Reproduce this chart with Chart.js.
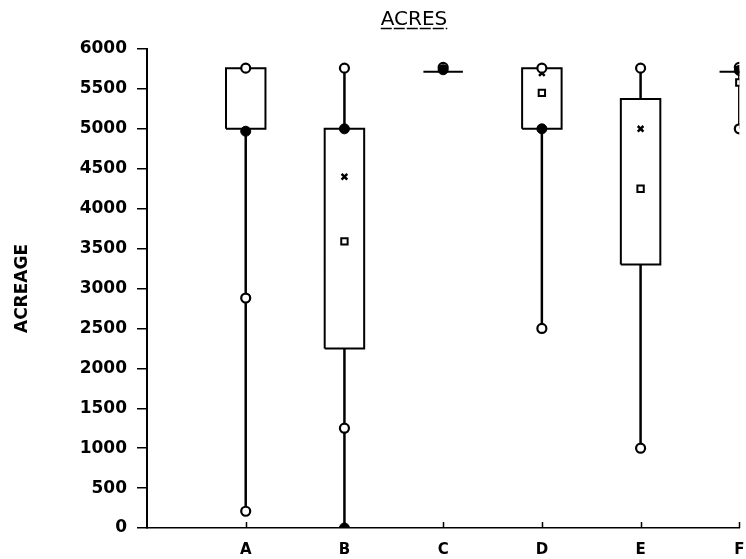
<!DOCTYPE html>
<html lang="en">
<head>
    <meta charset="UTF-8">
    <title>Acres</title>
    <script src="https://cdn.jsdelivr.net/npm/chart.js"></script>
    <style>
        html, body { margin: 0; padding: 0; background: #fff; }
        #wrap { width: 746px; height: 559px; }
    </style>
</head>
<body>
    <div id="wrap"><canvas id="acresChart" width="746" height="559"></canvas></div>

    <script>
        const categories = ['A', 'B', 'C', 'D', 'E', 'F'];
        const q1 = [5000, 2250, 5715, 5000, 3300, 5715];
        const q3 = [5760, 5000, 5715, 5760, 5375, 5715];
        const whiskerLow = [210, 0, 5715, 2500, 1000, 5000];
        const whiskerHigh = [5760, 5760, 5715, 5760, 5760, 5760];
        const openPoints = [[5760, 2880, 210], [5760, 1250], [5770], [5760, 2500], [5760, 1000], [5770, 5000]];
        const filledPoints = [[4970], [5000, 0], [5740], [5000], [], [5730]];
        const means = [[], [4400], [], [5700], [5000], []];
        const medians = [[], [3590], [], [5450], [4250], [5580]];
        const yTicks = [0, 500, 1000, 1500, 2000, 2500, 3000, 3500, 4000, 4500, 5000, 5500, 6000];

        const halfWidth = 0.2;

        // box outlines, separated by null points
        const boxData = [];
        categories.forEach((c, i) => {
            const x = i + 1;
            boxData.push({x: x - halfWidth, y: q1[i]}, {x: x + halfWidth, y: q1[i]},
                         {x: x + halfWidth, y: q3[i]}, {x: x - halfWidth, y: q3[i]},
                         {x: x - halfWidth, y: q1[i]}, {x: x, y: null});
        });

        // whiskers above and below each box
        const whiskerData = [];
        categories.forEach((c, i) => {
            const x = i + 1;
            if (whiskerLow[i] < q1[i]) whiskerData.push({x: x, y: whiskerLow[i]}, {x: x, y: q1[i]}, {x: x, y: null});
            if (whiskerHigh[i] > q3[i]) whiskerData.push({x: x, y: q3[i]}, {x: x, y: whiskerHigh[i]}, {x: x, y: null});
        });

        const toPoints = (lists) => lists.flatMap((vals, i) => vals.map(v => ({x: i + 1, y: v})));

        const titlePlugin = {
            id: 'acresTitle',
            afterDraw(chart) {
                const ctx = chart.ctx;
                ctx.save();
                ctx.fillStyle = '#000';
                ctx.font = '20px "DejaVu Sans"';
                ctx.textAlign = 'center';
                ctx.textBaseline = 'alphabetic';
                ctx.fillText('ACRES', 414, 25);
                const w = ctx.measureText('ACRES').width;
                ctx.strokeStyle = '#000';
                ctx.lineWidth = 1.5;
                ctx.setLineDash([11, 2]);
                ctx.beginPath();
                ctx.moveTo(414 - w / 2, 28.5);
                ctx.lineTo(414 + w / 2, 28.5);
                ctx.stroke();
                ctx.restore();
            }
        };

        // small tick marks pointing up into the plot at each category
        const innerTicks = {
            id: 'innerTicks',
            afterDatasetsDraw(chart) {
                const ctx = chart.ctx;
                const xs = chart.scales.x;
                const bottom = chart.chartArea.bottom;
                ctx.save();
                ctx.strokeStyle = '#000';
                ctx.lineWidth = 1.5;
                categories.forEach((c, i) => {
                    const px = Math.round(xs.getPixelForValue(i + 1)) + 0.5;
                    ctx.beginPath();
                    ctx.moveTo(px, bottom);
                    ctx.lineTo(px, bottom - 6);
                    ctx.stroke();
                });
                ctx.restore();
            }
        };

        const ctx = document.getElementById('acresChart').getContext('2d');
        new Chart(ctx, {
            type: 'scatter',
            data: {
                datasets: [
                    { type: 'line', data: boxData, borderColor: '#000', borderWidth: 2, pointRadius: 0, spanGaps: false, tension: 0, fill: false, order: 10 },
                    { type: 'line', data: whiskerData, borderColor: '#000', borderWidth: 2.5, pointRadius: 0, spanGaps: false, tension: 0, fill: false, order: 9 },
                    { data: toPoints(medians), pointStyle: 'rect', pointRadius: 4.5, backgroundColor: '#fff', borderColor: '#000', borderWidth: 2, order: 4 },
                    { data: toPoints(means), pointStyle: 'crossRot', pointRadius: 4, borderColor: '#000', borderWidth: 2.5, order: 3 },
                    { data: toPoints(openPoints), pointStyle: 'circle', pointRadius: 4.5, backgroundColor: '#fff', borderColor: '#000', borderWidth: 2.2, order: 2 },
                    { data: toPoints(filledPoints), pointStyle: 'circle', pointRadius: 5, backgroundColor: '#000', borderColor: '#000', borderWidth: 1, order: 1 }
                ]
            },
            options: {
                responsive: false,
                animation: false,
                layout: { padding: { left: 0, right: 3, top: 49, bottom: 0 } },
                plugins: { legend: { display: false }, tooltip: { enabled: false }, title: { display: false } },
                scales: {
                    x: {
                        type: 'linear',
                        min: 0,
                        max: 6,
                        afterBuildTicks: (scale) => { scale.ticks = categories.map((c, i) => ({value: i + 1})); },
                        afterFit: (scale) => { scale.height = 31; scale.paddingLeft = 0; scale.paddingRight = 0; },
                        ticks: {
                            callback: (v) => categories[v - 1] || '',
                            color: '#000',
                            font: { family: 'DejaVu Sans', size: 15, weight: 'bold' },
                            padding: 13,
                            maxRotation: 0,
                            autoSkip: false
                        },
                        grid: { display: false, drawTicks: false },
                        border: { color: '#000', width: 1.5 }
                    },
                    y: {
                        min: 0,
                        max: 6000,
                        afterBuildTicks: (scale) => { scale.ticks = yTicks.map(v => ({value: v})); },
                        afterFit: (scale) => { scale.width = 147; scale.paddingTop = 0; scale.paddingBottom = 0; },
                        ticks: {
                            callback: (v) => String(v),
                            color: '#000',
                            font: { family: 'DejaVu Sans', size: 17, weight: 'bold' },
                            padding: 10
                        },
                        grid: { drawOnChartArea: false, drawTicks: true, tickLength: 10, color: '#000', lineWidth: 1.5 },
                        border: { color: '#000', width: 2 },
                        title: {
                            display: true,
                            text: 'ACREAGE',
                            color: '#000',
                            font: { family: 'DejaVu Sans', size: 17, weight: 'bold' },
                            padding: { top: 12, bottom: 0 }
                        }
                    }
                }
            },
            plugins: [titlePlugin, innerTicks]
        });
    </script>
</body>
</html>
